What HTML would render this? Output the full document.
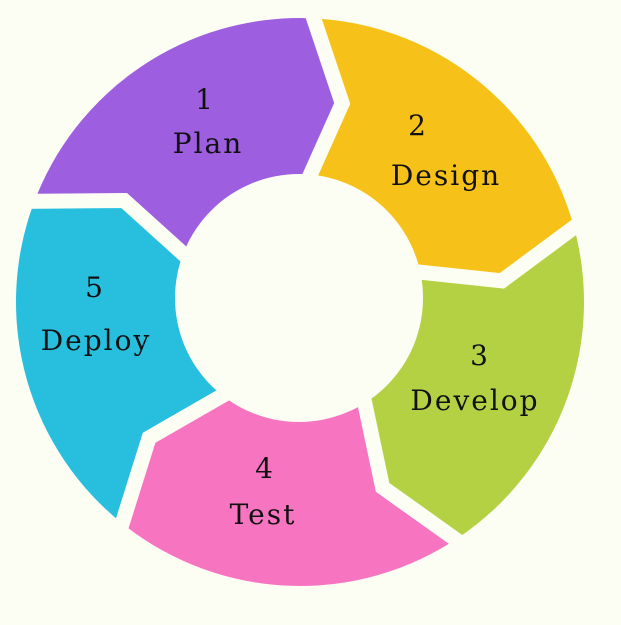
<!DOCTYPE html>
<html><head><meta charset="utf-8"><style>
html,body{margin:0;padding:0;background:#fcfdf3;}
svg{display:block}
text{font-family:"DejaVu Serif","Liberation Serif",serif;font-size:28px;fill:#111;text-anchor:middle;letter-spacing:2px}
</style></head><body>
<svg id="s" width="621" height="625" viewBox="0 0 621 625">
<g id="segs"></g>
<circle cx="299" cy="298" r="124" fill="#fcfdf3"/>
<text x="205" y="109">1</text><text x="208" y="153">Plan</text>
<text x="418" y="135">2</text><text x="446" y="185">Design</text>
<text x="480" y="365">3</text><text x="475" y="410">Develop</text>
<text x="265" y="478">4</text><text x="263" y="524">Test</text>
<text x="95" y="297">5</text><text x="96" y="350">Deploy</text>
</svg>
<script>
var cx=300,cy=302,R=284,ri=118,rm=203,d=10;
var cols=["#9d5ee0","#f6c219","#b4d144","#f775c0","#28bfdf"];
function p(r,a){a=a*Math.PI/180;return (cx+r*Math.cos(a)).toFixed(1)+" "+(cy+r*Math.sin(a)).toFixed(1);}
var h="";
for(var i=0;i<5;i++){
 var a0=-88-72+72*i,a1=a0+72;
 h+='<path fill="'+cols[i]+'" d="M'+p(R,a0)+' A'+R+' '+R+' 0 0 1 '+p(R,a1)+' L'+p(rm,a1+d)+' L'+p(ri,a1)+' A'+ri+' '+ri+' 0 0 0 '+p(ri,a0)+' L'+p(rm,a0+d)+' Z"/>';
}
for(var i=0;i<5;i++){
 var a=-88+72*i;
 h+='<polyline fill="none" stroke="#fcfdf3" stroke-width="15" stroke-linejoin="miter" points="'+p(R+10,a)+','+p(rm,a+d)+','+p(ri-5,a)+'"/>';
}
document.getElementById("segs").innerHTML=h;
</script>
</body></html>
